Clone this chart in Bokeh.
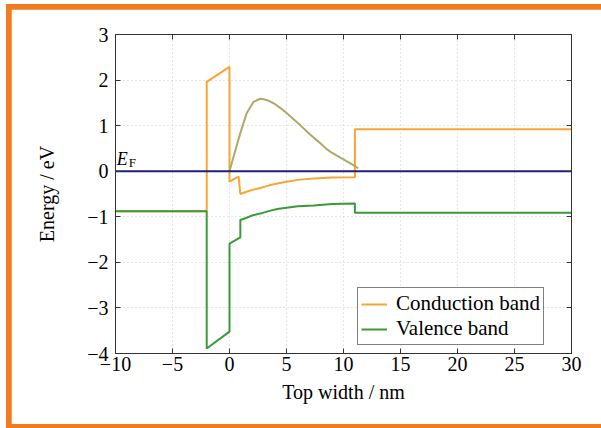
from bokeh.plotting import figure
from bokeh.models import (LinearAxis, Range1d, Legend, LegendItem, Label,
                          CustomJSTickFormatter, FixedTicker)
from bokeh.layouts import column
from bokeh.embed import file_html
from bokeh.resources import INLINE

# ---------------- data ----------------
cb_x = [-10, -2, -2, 0, 0, 0.8, 0.95, 1.5, 2.0, 2.7, 3.5, 4.2, 5.0, 6.0, 7.4, 9.0, 11.0, 11.0, 30]
cb_y = [-0.88, -0.88, 1.96, 2.29, -0.23, -0.12, -0.50, -0.45, -0.41, -0.37, -0.31, -0.27, -0.23, -0.19, -0.16, -0.14, -0.13, 0.92, 0.92]

vb_x = [-10, -2, -2, 0, 0, 0.95, 0.95, 1.5, 2.0, 2.7, 3.5, 4.2, 5.0, 6.0, 7.4, 9.0, 11.0, 11.0, 30]
vb_y = [-0.88, -0.88, -3.89, -3.52, -1.59, -1.45, -1.07, -1.02, -0.97, -0.93, -0.87, -0.83, -0.80, -0.77, -0.75, -0.72, -0.71, -0.91, -0.91]

ol_x = [0, 0.35, 0.94, 1.5, 2.1, 2.7, 3.0, 3.5, 4.0, 4.5, 5.0, 5.5, 6.0, 6.5, 7.0, 7.5, 8.0, 8.5, 9.0, 9.5, 10.0, 10.5, 11.0, 11.3]
ol_y = [0.0, 0.31, 0.83, 1.27, 1.52, 1.59, 1.58, 1.54, 1.47, 1.38, 1.28, 1.17, 1.06, 0.94, 0.82, 0.71, 0.61, 0.49, 0.40, 0.33, 0.26, 0.19, 0.11, 0.06]

ef_x = [-10, 30]
ef_y = [0, 0]

x_ticks = [-10, -5, 0, 5, 10, 15, 20, 25, 30]
y_ticks = [-4, -3, -2, -1, 0, 1, 2, 3]

ORANGE = "#F7A535"
GREEN = "#3A9A3A"
OLIVE = "#ADAA68"
NAVY = "#1F1F7F"
FONT = "Liberation Serif"

p = figure(width=590, height=415, output_backend="svg", toolbar_location=None,
           x_range=Range1d(-10, 30), y_range=Range1d(-4, 3),
           min_border_left=104, min_border_right=30, min_border_top=25, min_border_bottom=71)
p.background_fill_color = "white"
p.border_fill_color = "white"
p.outline_line_color = "#333333"
p.outline_line_width = 1

fmt = CustomJSTickFormatter(code="return (tick < 0 ? '\\u2212' : '') + Math.abs(tick);")

for ax in (p.xaxis[0], p.yaxis[0]):
    ax.formatter = fmt
    ax.major_tick_in = 5
    ax.major_tick_out = 0
    ax.minor_tick_line_color = None
    ax.axis_line_color = "#333333"
    ax.major_tick_line_color = "#333333"
    ax.major_label_text_font = FONT
    ax.major_label_text_font_size = "20px"
    ax.major_label_text_color = "black"
    ax.axis_label_text_font = FONT
    ax.axis_label_text_font_size = "20px"
    ax.axis_label_text_font_style = "normal"
    ax.axis_label_text_color = "black"

p.xaxis[0].ticker = FixedTicker(ticks=x_ticks)
p.yaxis[0].ticker = FixedTicker(ticks=y_ticks)
p.xaxis[0].axis_label = "Top width / nm"
p.yaxis[0].axis_label = "Energy / eV"
p.xaxis[0].major_label_standoff = 3
p.xaxis[0].axis_label_standoff = 7
p.yaxis[0].major_label_standoff = 7
p.yaxis[0].axis_label_standoff = 26

top = LinearAxis(ticker=FixedTicker(ticks=x_ticks), major_tick_in=5, major_tick_out=0,
                 minor_tick_line_color=None, major_label_text_font_size="0px",
                 major_label_text_color=None, major_label_text_alpha=0,
                 axis_line_color="#333333", major_tick_line_color="#333333", major_label_standoff=0)
right = LinearAxis(ticker=FixedTicker(ticks=y_ticks), major_tick_in=5, major_tick_out=0,
                   minor_tick_line_color=None, major_label_text_font_size="0px",
                   major_label_text_color=None, major_label_text_alpha=0,
                   axis_line_color="#333333", major_tick_line_color="#333333", major_label_standoff=0)
p.add_layout(top, "above")
p.add_layout(right, "right")

p.xgrid.ticker = FixedTicker(ticks=x_ticks)
p.ygrid.ticker = FixedTicker(ticks=y_ticks)
for g in (p.xgrid[0], p.ygrid[0]):
    g.grid_line_color = "#cccccc"
    g.grid_line_dash = "1 3"
    g.grid_line_width = 1

r_cb = p.line(cb_x, cb_y, line_color=ORANGE, line_width=2)
r_vb = p.line(vb_x, vb_y, line_color=GREEN, line_width=2)
p.line(ol_x, ol_y, line_color=OLIVE, line_width=2)
p.line(ef_x, ef_y, line_color=NAVY, line_width=2)

p.add_layout(Label(x=-9.9, y=0.05, text="E", text_font=FONT, text_font_style="italic",
                   text_font_size="18px", text_baseline="bottom", text_color="black"))
p.add_layout(Label(x=-9.9, y=0.05, x_offset=12, y_offset=-1, text="F", text_font=FONT,
                   text_font_size="13px", text_baseline="bottom", text_color="black"))

legend = Legend(items=[LegendItem(label="Conduction band", renderers=[r_cb]),
                       LegendItem(label="Valence band", renderers=[r_vb])],
                location=(242, 8), label_text_font=FONT, label_text_font_size="21px",
                label_text_color="black", glyph_width=26, glyph_height=18, label_height=18,
                label_standoff=9, spacing=0, padding=3, margin=0,
                border_line_color="black", border_line_width=1, background_fill_alpha=1)
p.add_layout(legend, "center")

layout = column(p, styles={"background-color": "#F47A1F", "padding": "5px 0px 4px 5px",
                           "margin": "4px 0px 0px 6px"})

open("out.html", "w").write(file_html(layout, INLINE))
